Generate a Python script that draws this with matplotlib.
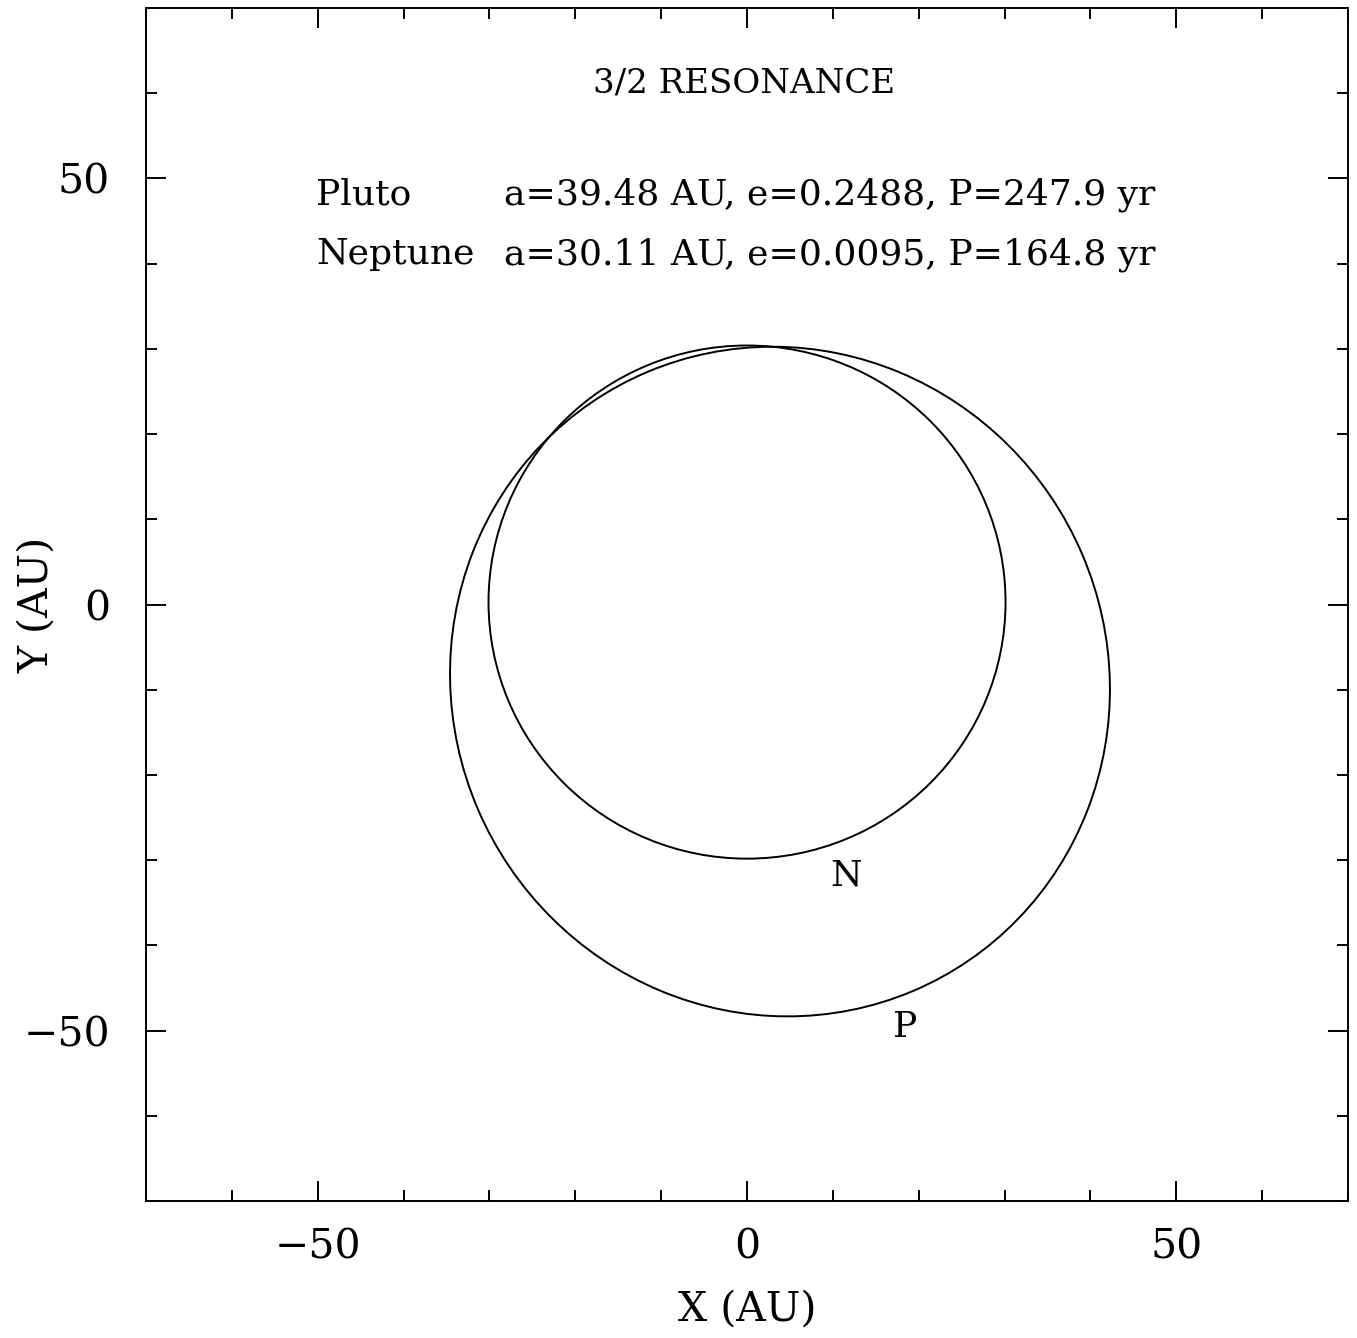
import numpy as np
import matplotlib
matplotlib.use("Agg")
import matplotlib.pyplot as plt
from matplotlib.patches import Ellipse
from matplotlib.ticker import MultipleLocator

# Orbital elements (from the chart annotation); orientation
bodies = ["Pluto", "Neptune"]
labels = ["P", "N"]
semi_major = [39.48, 30.11]        # AU
eccentricity = [0.2488, 0.0095]
period = [247.9, 164.8]            # yr
perihelion_angle = [113.0, -90.0]  # deg, direction of perihelion from +x

label_pos_x = [18.4, 11.5]
label_pos_y = [-49.6, -31.8]

x_ticks = [-50, 0, 50]
y_ticks = [-50, 0, 50]

fig = plt.figure(figsize=(13.57, 13.38), dpi=100)
ax = fig.add_axes([0.1076, 0.1024, 0.8858, 0.8916])
ax.set_xlim(-70, 70)
ax.set_ylim(-70, 70)

serif = ["DejaVu Serif"]
txt = ["DejaVu Serif"]
tsize = 26

for name, a, e, w in zip(bodies, semi_major, eccentricity, perihelion_angle):
    b = a * np.sqrt(1 - e ** 2)
    c = a * e
    cx = -c * np.cos(np.radians(w))
    cy = -c * np.sin(np.radians(w))
    ell = Ellipse((cx, cy), 2 * a, 2 * b, angle=w, fill=False,
                  edgecolor="black", linewidth=1.4)
    ax.add_patch(ell)

for lab, lx, ly in zip(labels, label_pos_x, label_pos_y):
    ax.text(lx, ly, lab, family=txt, fontsize=tsize, ha="center", va="center")

ax.text(-0.4, 61.2, "3/2 RESONANCE", family=txt, fontsize=24.5,
        ha="center", va="center")
ys = [48.1, 41.1]
for name, a, e, P, y in zip(bodies, semi_major, eccentricity, period, ys):
    ax.text(-50.2, y, name, family=txt, fontsize=tsize, ha="left", va="center")
    ax.text(-28.3, y, f"a={a:.2f} AU, e={e:.4f}, P={P:.1f} yr",
            family=txt, fontsize=tsize, ha="left", va="center")

ax.set_xticks(x_ticks)
ax.set_yticks(y_ticks)
ax.set_xticklabels([f"{v}".replace("-", "\u2212") for v in x_ticks])
ax.set_yticklabels([f"{v}".replace("-", "\u2212") for v in y_ticks])
ax.xaxis.set_minor_locator(MultipleLocator(10))
ax.yaxis.set_minor_locator(MultipleLocator(10))
ax.tick_params(which="both", direction="in", top=True, right=True,
               width=1.4, color="black")
ax.tick_params(which="major", length=14.5)
ax.tick_params(which="minor", length=8)
ax.tick_params(axis="x", which="major", pad=19, labelsize=29.5)
ax.tick_params(axis="y", which="major", pad=26, labelsize=29.5)
for lbl in ax.get_xticklabels() + ax.get_yticklabels():
    lbl.set_family(serif)
for sp in ax.spines.values():
    sp.set_linewidth(1.4)

ax.set_xlabel("X (AU)", family=serif, fontsize=29.5, va="center")
ax.set_ylabel("Y (AU)", family=serif, fontsize=29.5, va="center")
ax.xaxis.set_label_coords(0.5, -0.0914)
ax.yaxis.set_label_coords(-0.0907, 0.5)

fig.savefig("out.png", dpi=100)
